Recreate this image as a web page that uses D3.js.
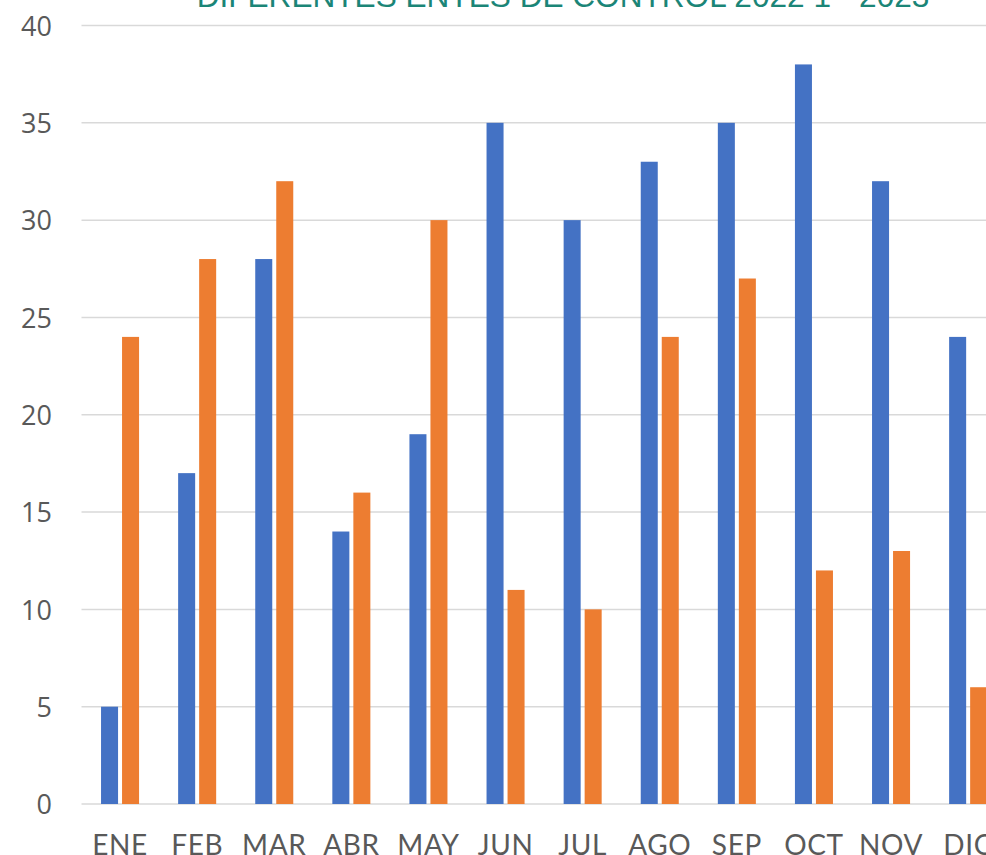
<!DOCTYPE html>
<html>
<head>
<meta charset="utf-8">
<script src="https://cdn.jsdelivr.net/npm/d3@7"></script>
<style>
  html, body { margin: 0; padding: 0; background: #fff; overflow: hidden; }
  svg { display: block; }
</style>
</head>
<body>
<svg id="chart" width="986" height="855"></svg>
<script>
// Meses y valores de cada serie
const months = ["ENE", "FEB", "MAR", "ABR", "MAY", "JUN", "JUL", "AGO", "SEP", "OCT", "NOV", "DIC"];
const serie1 = [5, 17, 28, 14, 19, 35, 30, 33, 35, 38, 32, 24];
const serie2 = [24, 28, 32, 16, 30, 11, 10, 24, 27, 12, 13, 6];
const yTicks = [0, 5, 10, 15, 20, 25, 30, 35, 40];
const titleText = "DIFERENTES ENTES DE CONTROL 2022 1 - 2023";

const seriesNames = ["serie1", "serie2"];
const colors = { serie1: "#4472c4", serie2: "#ed7d31" };
const rows = months.map((m, i) => ({ month: m, serie1: serie1[i], serie2: serie2[i] }));

const svg = d3.select("#chart");
const plotLeft = 81.5, step = 77.1;
const plotTop = 25.5, plotBottom = 804;

const x = d3.scaleBand().domain(months).range([plotLeft, plotLeft + step * months.length]).padding(0);
const xSub = d3.scaleBand().domain(seriesNames).range([0, x.bandwidth()])
  .paddingInner(0.19).paddingOuter(0.93);
const y = d3.scaleLinear().domain([0, 40]).range([plotBottom, plotTop]);

// Líneas de cuadrícula horizontales
svg.append("g")
  .selectAll("line")
  .data(yTicks)
  .join("line")
  .attr("x1", plotLeft)
  .attr("x2", 986)
  .attr("y1", d => y(d))
  .attr("y2", d => y(d))
  .attr("stroke", "#d9d9d9")
  .attr("stroke-width", 1.5);

// Barras agrupadas
svg.append("g")
  .selectAll("g")
  .data(rows)
  .join("g")
  .attr("transform", d => `translate(${x(d.month)},0)`)
  .selectAll("rect")
  .data(d => seriesNames.map(k => ({ key: k, value: d[k] })))
  .join("rect")
  .attr("x", d => xSub(d.key))
  .attr("width", xSub.bandwidth())
  .attr("y", d => y(d.value))
  .attr("height", d => y(0) - y(d.value))
  .attr("fill", d => colors[d.key]);

// Eje Y
const yAxis = svg.append("g")
  .attr("transform", `translate(52,0)`)
  .call(d3.axisLeft(y).tickValues(yTicks).tickSize(0).tickPadding(0));
yAxis.select(".domain").remove();
yAxis.selectAll("text")
  .attr("font-family", "'Open Sans', sans-serif")
  .attr("font-size", 27)
  .attr("fill", "#595959")
  .attr("dy", "0.36em");

// Eje X
const xAxis = svg.append("g")
  .attr("transform", `translate(0,${plotBottom})`)
  .call(d3.axisBottom(x).tickSize(0).tickPadding(0));
xAxis.select(".domain").remove();
xAxis.selectAll("text")
  .attr("font-family", "Lato, 'Open Sans', sans-serif")
  .attr("font-size", 28)
  .attr("letter-spacing", 0.6)
  .attr("fill", "#595959")
  .attr("dy", null)
  .attr("y", 51);

// Título
const title = svg.append("text")
  .attr("x", 563)
  .attr("y", 7)
  .attr("text-anchor", "middle")
  .attr("font-family", "'Liberation Sans', Arial, sans-serif")
  .attr("font-size", 27)
  .attr("fill", "#1b8577")
  .text(titleText);
const w = title.node().getComputedTextLength();
title.attr("font-size", 27 * 733 / w);
</script>
</body>
</html>
